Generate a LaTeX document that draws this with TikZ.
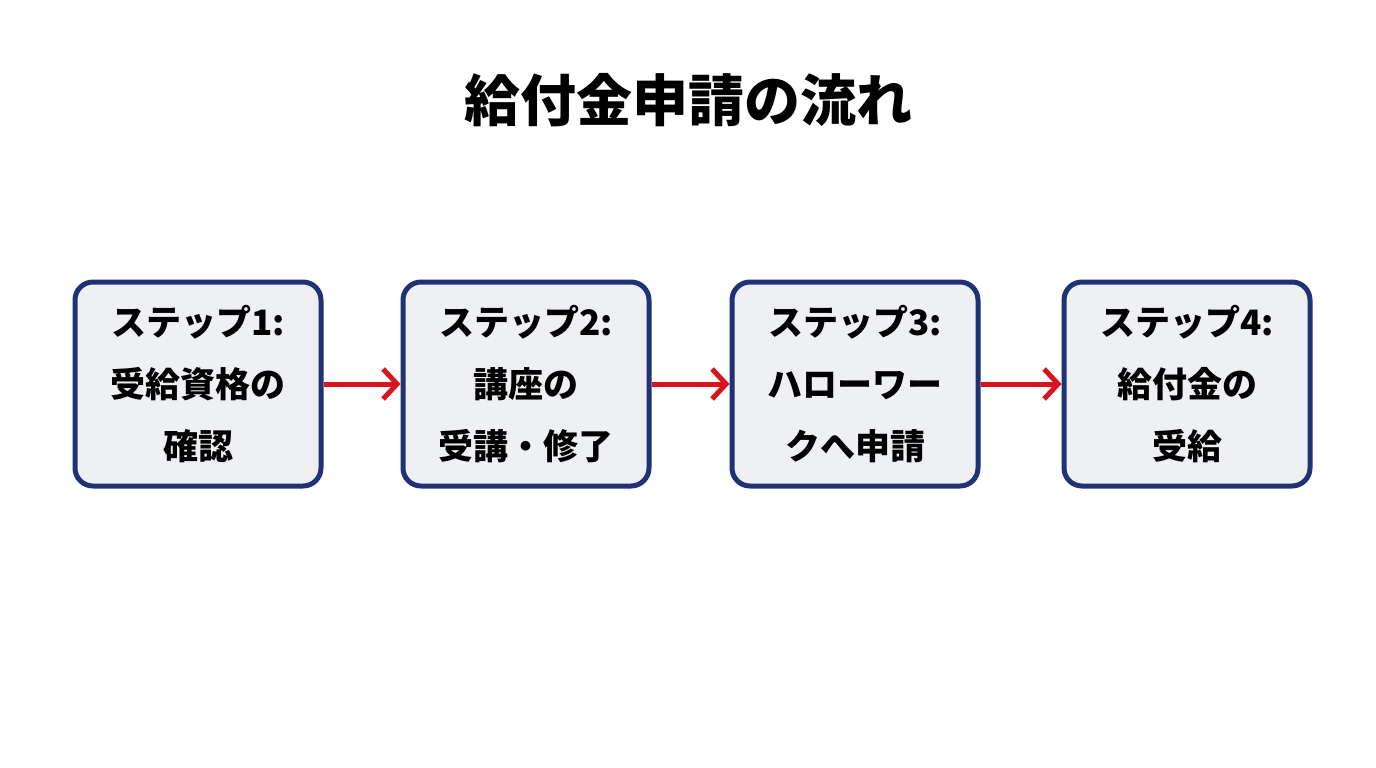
\documentclass[tikz,border=0pt]{standalone}
\usepackage{fontspec}
\setmainfont{Noto Sans CJK JP}
\usetikzlibrary{arrows.meta}
\definecolor{navy}{HTML}{1F3275}
\definecolor{boxfill}{HTML}{EEF0F4}
\definecolor{arrred}{HTML}{D9141E}
\begin{document}
\begin{tikzpicture}[x=1pt,y=-1pt,
  stepbox/.style={draw=navy,line width=5pt,fill=boxfill,rounded corners=18pt,
    minimum width=246pt,minimum height=204pt,align=center,
    font=\bfseries\fontsize{35}{62}\selectfont,inner sep=0pt},
  flow/.style={draw=arrred,line width=5pt,-{Straight Barb[length=14pt,width=30pt,line width=5pt]}}]
\useasboundingbox (0,0) rectangle (1376,768);
\fill[white] (0,0) rectangle (1376,768);
\node[font=\bfseries\fontsize{56}{60}\selectfont] (title) at (688,100) {給付金申請の流れ};
\node[stepbox] (s1) at (198,384) {ステップ1:\\受給資格の\\確認};
\node[stepbox] (s2) at (526,384) {ステップ2:\\講座の\\受講・修了};
\node[stepbox] (s3) at (855,384) {ステップ3:\\ハローワー\\クへ申請};
\node[stepbox] (s4) at (1187,384) {ステップ4:\\給付金の\\受給};
\draw[flow] (s1.east) -- (s2.west);
\draw[flow] (s2.east) -- (s3.west);
\draw[flow] (s3.east) -- (s4.west);
\end{tikzpicture}
\end{document}
